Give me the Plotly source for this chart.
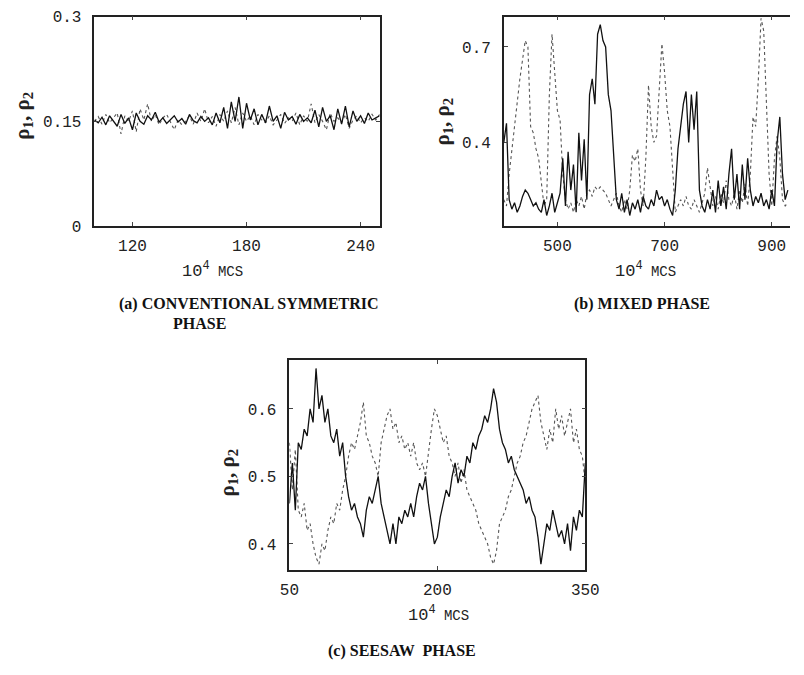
import plotly.graph_objects as go

W, H = 804, 675

# ---------------- data ----------------
# panel (a): conventional symmetric phase, x = 100 + 2*i
a_x0, a_dx = 100, 2
rho1_a = [0.152,0.148,0.156,0.145,0.158,0.150,0.143,0.160,0.147,0.155,0.138,0.162,0.150,0.146,0.158,0.152,
          0.163,0.149,0.155,0.147,0.153,0.158,0.149,0.154,0.146,0.160,0.151,0.148,0.157,0.150,0.155,0.145,
          0.162,0.148,0.170,0.140,0.178,0.150,0.185,0.140,0.176,0.152,0.168,0.145,0.160,0.148,0.172,0.150,
          0.158,0.140,0.163,0.152,0.157,0.146,0.160,0.150,0.155,0.148,0.166,0.142,0.170,0.150,0.158,0.138,
          0.168,0.146,0.172,0.142,0.165,0.150,0.158,0.147,0.162,0.152,0.155,0.158]
rho2_a = [0.150,0.157,0.146,0.160,0.148,0.155,0.162,0.132,0.158,0.150,0.165,0.135,0.168,0.152,0.175,0.150,
          0.160,0.145,0.155,0.160,0.150,0.138,0.152,0.145,0.150,0.158,0.146,0.162,0.150,0.168,0.148,0.157,
          0.143,0.160,0.150,0.165,0.148,0.170,0.145,0.162,0.150,0.158,0.145,0.160,0.152,0.148,0.158,0.145,
          0.152,0.160,0.147,0.155,0.150,0.162,0.145,0.158,0.150,0.175,0.148,0.160,0.150,0.138,0.162,0.150,
          0.155,0.148,0.160,0.140,0.152,0.158,0.148,0.155,0.150,0.160,0.152,0.160]

# panel (b): mixed phase, x = 400 + 5*i
b_x0, b_dx = 400, 5
rho1_b = [0.40,0.46,0.22,0.19,0.21,0.18,0.20,0.23,0.25,0.24,0.22,0.20,0.21,0.19,0.18,0.22,
          0.17,0.20,0.24,0.18,0.21,0.24,0.35,0.20,0.37,0.25,0.33,0.18,0.43,0.28,0.41,0.22,
          0.55,0.60,0.52,0.74,0.77,0.72,0.70,0.55,0.50,0.35,0.22,0.19,0.24,0.18,0.22,0.17,
          0.21,0.19,0.22,0.18,0.23,0.20,0.19,0.22,0.20,0.25,0.22,0.23,0.20,0.22,0.19,0.17,
          0.25,0.38,0.45,0.52,0.56,0.40,0.55,0.44,0.56,0.25,0.20,0.18,0.22,0.19,0.25,0.18,
          0.28,0.20,0.26,0.19,0.30,0.38,0.22,0.30,0.19,0.33,0.22,0.35,0.25,0.20,0.23,0.21,
          0.24,0.20,0.22,0.19,0.25,0.20,0.40,0.48,0.30,0.22,0.25]
rho2_b = [0.22,0.20,0.30,0.38,0.45,0.52,0.60,0.66,0.72,0.70,0.45,0.43,0.38,0.35,0.28,0.20,
          0.22,0.55,0.74,0.62,0.50,0.47,0.30,0.22,0.19,0.21,0.18,0.22,0.20,0.23,0.19,0.24,
          0.25,0.23,0.26,0.25,0.26,0.25,0.24,0.22,0.20,0.22,0.24,0.20,0.18,0.22,0.19,0.25,
          0.36,0.34,0.38,0.25,0.20,0.35,0.58,0.45,0.40,0.42,0.55,0.71,0.62,0.50,0.45,0.30,
          0.18,0.20,0.22,0.20,0.23,0.20,0.19,0.22,0.20,0.18,0.21,0.24,0.32,0.26,0.20,0.23,
          0.19,0.24,0.21,0.28,0.22,0.20,0.24,0.19,0.25,0.21,0.27,0.20,0.30,0.48,0.45,0.60,
          0.79,0.75,0.55,0.30,0.20,0.35,0.42,0.35,0.22,0.20,0.21]

# panel (c): seesaw phase, x = 50 + 3*i
c_x0, c_dx = 50, 3
rho1_c = [0.46,0.52,0.45,0.55,0.54,0.57,0.56,0.60,0.58,0.66,0.60,0.62,0.58,0.60,0.56,0.55,
          0.57,0.53,0.55,0.50,0.47,0.45,0.46,0.44,0.43,0.41,0.45,0.47,0.46,0.48,0.50,0.46,
          0.44,0.42,0.40,0.43,0.40,0.44,0.43,0.45,0.44,0.46,0.44,0.47,0.49,0.48,0.50,0.46,
          0.43,0.40,0.41,0.44,0.46,0.48,0.47,0.50,0.52,0.49,0.51,0.50,0.53,0.52,0.55,0.54,
          0.56,0.57,0.59,0.58,0.60,0.63,0.61,0.57,0.55,0.54,0.52,0.53,0.51,0.50,0.49,0.48,
          0.46,0.47,0.45,0.44,0.41,0.37,0.40,0.43,0.42,0.45,0.43,0.41,0.42,0.40,0.43,0.39,
          0.44,0.42,0.45,0.44,0.52]
rho2_c = [0.55,0.48,0.54,0.45,0.44,0.46,0.42,0.43,0.40,0.38,0.37,0.40,0.39,0.42,0.44,0.43,
          0.46,0.45,0.48,0.50,0.53,0.55,0.54,0.56,0.58,0.61,0.56,0.55,0.53,0.52,0.50,0.55,
          0.57,0.59,0.60,0.57,0.58,0.55,0.56,0.54,0.55,0.53,0.55,0.52,0.51,0.52,0.50,0.54,
          0.57,0.60,0.59,0.57,0.55,0.56,0.53,0.52,0.50,0.52,0.49,0.51,0.48,0.47,0.46,0.45,
          0.43,0.42,0.41,0.40,0.38,0.37,0.39,0.43,0.44,0.45,0.47,0.48,0.50,0.52,0.53,0.55,
          0.56,0.58,0.60,0.61,0.62,0.58,0.56,0.54,0.57,0.55,0.60,0.57,0.59,0.56,0.58,0.60,
          0.55,0.57,0.54,0.53,0.49]

# axis ticks
a_xticks = [120, 180, 240]
a_yticks = [0, 0.15, 0.3]
a_yticktext = ["0", "0.15", "0.3"]
b_xticks = [500, 700, 900]
b_yticks = [0.4, 0.7]
b_yticktext = ["0.4", "0.7"]
c_xticks = [50, 200, 350]
c_yticks = [0.4, 0.5, 0.6]
c_yticktext = ["0.4", "0.5", "0.6"]

captions = ["(a) CONVENTIONAL SYMMETRIC", "PHASE", "(b) MIXED PHASE", "(c) SEESAW  PHASE"]

# ---------------- figure ----------------
def xs(x0, dx, n):
    return [x0 + dx * i for i in range(n)]

fig = go.Figure()

solid = dict(color="#111111", width=1.3)
dotted = dict(color="#555555", width=1.1, dash="dot")

panels = [
    ("x", "y", a_x0, a_dx, rho1_a, rho2_a),
    ("x2", "y2", b_x0, b_dx, rho1_b, rho2_b),
    ("x3", "y3", c_x0, c_dx, rho1_c, rho2_c),
]
for xa, ya, x0, dx, r1, r2 in panels:
    fig.add_trace(go.Scatter(x=xs(x0, dx, len(r2)), y=r2, mode="lines", line=dotted,
                             xaxis=xa, yaxis=ya, showlegend=False))
    fig.add_trace(go.Scatter(x=xs(x0, dx, len(r1)), y=r1, mode="lines", line=solid,
                             xaxis=xa, yaxis=ya, showlegend=False))

mono = "Liberation Mono, Courier New, monospace"
serif = "Liberation Serif, Times New Roman, serif"
tickfont = dict(family=mono, size=16, color="#222")
common = dict(showgrid=False, zeroline=False, showline=True, linecolor="#222", linewidth=1.5,
              ticks="inside", ticklen=4, tickwidth=1, tickcolor="#444", tickfont=tickfont)
ycommon = dict(common, ticklabelstandoff=8)
xcommon = dict(common, ticklabelstandoff=4)

def px_x(p): return p / W
def px_y(p): return 1 - p / H

fig.update_layout(
    width=W, height=H, margin=dict(l=0, r=0, t=0, b=0),
    plot_bgcolor="white", paper_bgcolor="white",
    xaxis=dict(domain=[px_x(87), px_x(381)], range=[100, 250], tickvals=a_xticks,
               mirror="allticks", anchor="y", **xcommon),
    yaxis=dict(domain=[px_y(225), px_y(10)], range=[0, 0.3], tickvals=a_yticks,
               ticktext=a_yticktext, mirror="allticks", anchor="x", **ycommon),
    xaxis2=dict(domain=[px_x(509), 1.0], range=[400, 934], tickvals=b_xticks,
                mirror="allticks", anchor="y2", **xcommon),
    yaxis2=dict(domain=[px_y(225), px_y(10)], range=[0.137, 0.795], tickvals=b_yticks,
                ticktext=b_yticktext, mirror=False, anchor="x2", **ycommon),
    xaxis3=dict(domain=[px_x(288), px_x(593)], range=[50, 350], tickvals=c_xticks,
                mirror="allticks", anchor="y3", **xcommon),
    yaxis3=dict(domain=[px_y(578), px_y(363)], range=[0.362, 0.672], tickvals=c_yticks,
                ticktext=c_yticktext, mirror="allticks", anchor="x3", **ycommon),
)

xtitle = "10<sup>4</sup><span style='font-size:14px'> MCS</span>"
ytitle = "<b>ρ<sub>1</sub>, ρ<sub>2</sub></b>"

anns = []
for cx, cy in [(209, 270), (655, 270), (442, 624)]:
    anns.append(dict(x=px_x(cx), y=px_y(cy), xref="paper", yref="paper", text=xtitle,
                     showarrow=False, font=dict(family=mono, size=17, color="#222"),
                     xanchor="center", yanchor="middle"))
for cx, cy in [(13, 112), (446, 118), (225, 478)]:
    anns.append(dict(x=px_x(cx), y=px_y(cy), xref="paper", yref="paper", text=ytitle,
                     showarrow=False, textangle=-90, font=dict(family=serif, size=21, color="#222"),
                     xanchor="center", yanchor="middle"))
cap_pos = [(246, 305), (195, 325), (651, 305), (404, 662)]
for txt, (cx, cy) in zip(captions, cap_pos):
    anns.append(dict(x=px_x(cx), y=px_y(cy), xref="paper", yref="paper", text="<b>" + txt + "</b>",
                     showarrow=False, font=dict(family=serif, size=16, color="#111"),
                     xanchor="center", yanchor="middle"))
fig.update_layout(annotations=anns)

fig.write_html("out.html")
